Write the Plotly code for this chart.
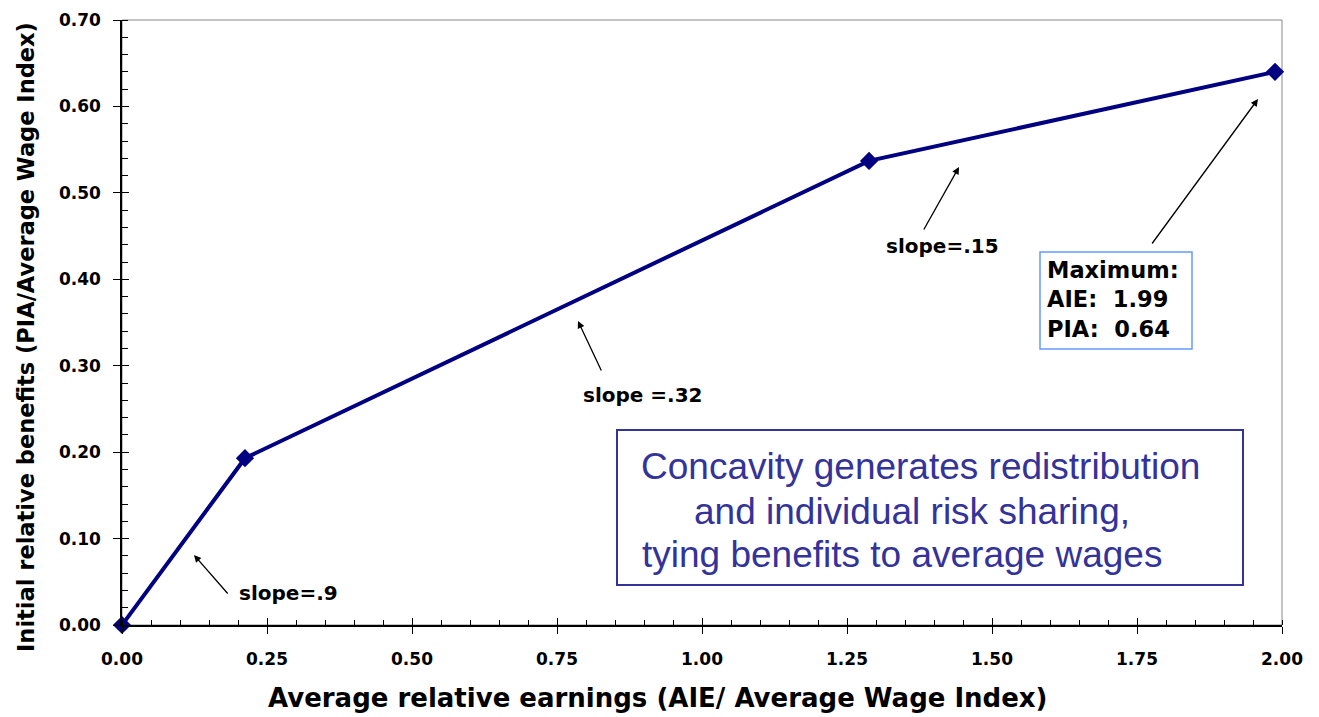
import plotly.graph_objects as go

# ---- data ----
aie = [0.0, 0.212, 1.288, 1.988]          # Average relative earnings
pia = [0.0, 0.193, 0.537, 0.640]          # Initial relative benefits

x_title = "Average relative earnings (AIE/ Average Wage Index)"
y_title = "Initial relative benefits (PIA/Average Wage Index)"

slope_labels = ["slope=.9", "slope =.32", "slope=.15"]
max_lines = ["Maximum:", "AIE:\u00a0\u00a01.99", "PIA:\u00a0\u00a00.64"]
box_lines = ["Concavity generates redistribution",
             "and individual risk sharing,",
             "tying benefits to average wages"]

OFF = 8                      # page body margin
W, H = 1319 - OFF, 717 - OFF
PX0, PX1, PY0, PY1 = 122, 1282, 20, 625   # plot area in page pixels
L, T = PX0 - OFF, PY0 - OFF
R, B = OFF + W - PX1, OFF + H - PY1
XR = [0, 2.0]
YR = [0, 0.70]
pw = PX1 - PX0
ph = PY1 - PY0


def dx(px):
    return (px - PX0) / pw * (XR[1] - XR[0]) + XR[0]


def dy(py):
    return (PY1 - py) / ph * (YR[1] - YR[0]) + YR[0]


BOLD = "DejaVu Sans"


def bfont(size, color="black"):
    return dict(family=BOLD, size=size, color=color, weight="bold")


fig = go.Figure()
fig.add_trace(go.Scatter(
    x=aie, y=pia, mode="lines+markers",
    line=dict(color="#000080", width=4),
    marker=dict(symbol="diamond", size=14, color="#000080"),
    cliponaxis=False, showlegend=False, hoverinfo="skip"))

tickfont = bfont(17)
fig.update_layout(
    width=W, height=H, margin=dict(l=L, r=R, t=T, b=B, autoexpand=False),
    paper_bgcolor="white", plot_bgcolor="white",
    xaxis=dict(range=XR, dtick=0.25, tickformat=".2f", showgrid=False, zeroline=False,
               showline=True, linecolor="black", linewidth=1.5,
               ticks="outside", ticklen=7, tickcolor="black", tickwidth=1.2,
               tickfont=tickfont, ticklabelstandoff=11,
               minor=dict(dtick=0.05, ticks="inside", ticklen=5, tickcolor="black", tickwidth=1, showgrid=False)),
    yaxis=dict(range=YR, dtick=0.1, tickformat=".2f", showgrid=False, zeroline=False,
               showline=True, linecolor="black", linewidth=1.5,
               ticks="outside", ticklen=7, tickcolor="black", tickwidth=1.2,
               tickfont=tickfont, ticklabelstandoff=9,
               minor=dict(dtick=0.02, ticks="inside", ticklen=6, tickcolor="black", tickwidth=1, showgrid=False)),
    xaxis2=dict(range=XR, overlaying="x", dtick=0.25, ticks="inside", ticklen=7, tickcolor="black",
                tickwidth=1.2, showticklabels=False, showgrid=False, zeroline=False, showline=False),
    yaxis2=dict(range=YR, overlaying="y", dtick=0.1, ticks="inside", ticklen=7, tickcolor="black",
                tickwidth=1.2, showticklabels=False, showgrid=False, zeroline=False, showline=False),
)
# invisible trace to activate overlay axes
fig.add_trace(go.Scatter(x=[None], y=[None], xaxis="x2", yaxis="y2", showlegend=False))

# gray frame (top/right)
fig.add_shape(type="rect", xref="paper", yref="paper", x0=0, x1=1, y0=0, y1=1,
              line=dict(color="#888888", width=1), layer="below")

# axis titles
fig.add_annotation(text=x_title, xref="paper", yref="paper", x=(658 - PX0) / pw, y=(PY1 - 698) / ph,
                   showarrow=False, xanchor="center", yanchor="middle", font=bfont(26))
fig.add_annotation(text=y_title, xref="paper", yref="paper", x=(26 - PX0) / pw, y=(PY1 - 337) / ph,
                   showarrow=False, xanchor="center", yanchor="middle", textangle=-90, font=bfont(22.5))

# arrows (head px, tail px)
arrows = [((194, 555), (229, 595)), ((578, 321), (602, 372)),
          ((959, 167), (923, 231)), ((1258, 99), (1151, 245))]
for (hx, hy), (tx, ty) in arrows:
    fig.add_annotation(x=dx(hx), y=dy(hy), ax=dx(tx), ay=dy(ty), xref="x", yref="y",
                       axref="x", ayref="y", text="", showarrow=True, arrowhead=2,
                       arrowsize=1.1, arrowwidth=1.3, arrowcolor="black")

slope_pos = [(237, 593, "left"), (643, 395, "center"), (942, 246, "center")]
for txt, (px, py, anc) in zip(slope_labels, slope_pos):
    fig.add_annotation(text=txt, x=dx(px), y=dy(py), xref="x", yref="y", showarrow=False,
                       xanchor=anc, yanchor="middle", font=bfont(20))

# maximum box
fig.add_shape(type="rect", xref="x", yref="y", x0=dx(1040), x1=dx(1192), y0=dy(349), y1=dy(252),
              line=dict(color="#6699FF", width=1.5), fillcolor="white")
for txt, py in zip(max_lines, [270, 299, 329]):
    fig.add_annotation(text=txt, x=dx(1045), y=dy(py), xref="x", yref="y", showarrow=False,
                       xanchor="left", yanchor="middle", font=bfont(22.5))

# concavity box
fig.add_shape(type="rect", xref="x", yref="y", x0=dx(617), x1=dx(1243), y0=dy(585), y1=dy(430),
              line=dict(color="#333399", width=2), fillcolor="white")
for txt, (px, py) in zip(box_lines, [(639, 466), (692, 511), (640, 554)]):
    fig.add_annotation(text=txt, x=dx(px), y=dy(py), xref="x", yref="y", showarrow=False,
                       xanchor="left", yanchor="middle",
                       font=dict(family="Liberation Sans, Arial", size=37, color="#333399"))

fig.write_html("out.html")
